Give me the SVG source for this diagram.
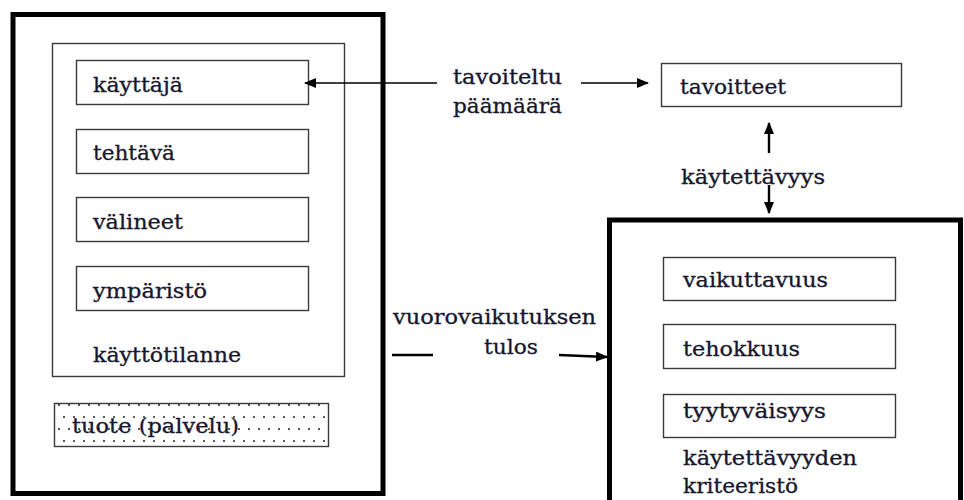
<svg xmlns="http://www.w3.org/2000/svg" width="964" height="500" viewBox="0 0 964 500">
  <style>
    .frame { fill: none; stroke: #000; stroke-width: 5; }
    .box { fill: #fff; stroke: #3a3a3a; stroke-width: 1.4; }
    .area { fill: none; stroke: #3a3a3a; stroke-width: 1.4; }
    text { font-family: 'DejaVu Serif', 'Liberation Serif', serif; font-size: 20px; fill: #16162e; stroke: #16162e; stroke-width: 0.3; }
    .conn { stroke: #000; stroke-width: 1.6; fill: none; }
    .conn-b { stroke: #000; stroke-width: 2.4; fill: none; }
  </style>
  <defs>
    <marker id="arrow" markerUnits="userSpaceOnUse" markerWidth="12" markerHeight="10" refX="11" refY="5" orient="auto">
      <path d="M0,0 L12,5 L0,10 Z" fill="#000"/>
    </marker>
    <pattern id="dots" patternUnits="userSpaceOnUse" x="54" y="403" width="20" height="24">
      <rect x="0" y="0" width="20" height="24" fill="#fff"/>
      <circle cx="5" cy="2" r="1" fill="#222"/>
      <circle cx="15" cy="2" r="1" fill="#222"/>
      <circle cx="0" cy="14" r="1" fill="#222"/>
      <circle cx="10" cy="14" r="1" fill="#222"/>
      <circle cx="20" cy="14" r="1" fill="#222"/>
    </pattern>
  </defs>

  <!-- left frame: use situation and product -->
  <g id="system">
    <rect class="frame" x="13" y="14.5" width="370" height="479"/>
  </g>
  <g id="kayttotilanne">
    <rect class="area" x="52.5" y="43.5" width="292" height="333"/>
    <text x="93" y="362" textLength="148" lengthAdjust="spacingAndGlyphs">käyttötilanne</text>
  </g>
  <g id="kayttaja">
    <rect class="box" x="76.5" y="60.5" width="232" height="44"/>
    <text x="93" y="92" textLength="90" lengthAdjust="spacingAndGlyphs">käyttäjä</text>
  </g>
  <g id="tehtava">
    <rect class="box" x="76.5" y="129.5" width="232" height="44"/>
    <text x="93" y="160" textLength="82" lengthAdjust="spacingAndGlyphs">tehtävä</text>
  </g>
  <g id="valineet">
    <rect class="box" x="76.5" y="197.5" width="232" height="44"/>
    <text x="93" y="229" textLength="90" lengthAdjust="spacingAndGlyphs">välineet</text>
  </g>
  <g id="ymparisto">
    <rect class="box" x="76.5" y="266.5" width="232" height="44"/>
    <text x="93" y="298" textLength="114" lengthAdjust="spacingAndGlyphs">ympäristö</text>
  </g>
  <g id="tuote">
    <rect x="54.5" y="403.5" width="274" height="43" fill="url(#dots)" stroke="#3a3a3a" stroke-width="1.4"/>
    <text x="72" y="433" textLength="167" lengthAdjust="spacingAndGlyphs">tuote (palvelu)</text>
  </g>

  <!-- goals -->
  <g id="tavoitteet">
    <rect class="box" x="661.5" y="63.5" width="240" height="43"/>
    <text x="680" y="94" textLength="106" lengthAdjust="spacingAndGlyphs">tavoitteet</text>
  </g>

  <!-- right frame: usability criteria -->
  <g id="kriteeristo">
    <rect class="frame" x="609.5" y="220" width="351" height="300"/>
    <text x="683" y="465" textLength="174" lengthAdjust="spacingAndGlyphs">käytettävyyden</text>
    <text x="683" y="493" textLength="115" lengthAdjust="spacingAndGlyphs">kriteeristö</text>
  </g>
  <g id="vaikuttavuus">
    <rect class="box" x="663.5" y="257.5" width="232" height="43"/>
    <text x="683" y="287" textLength="145" lengthAdjust="spacingAndGlyphs">vaikuttavuus</text>
  </g>
  <g id="tehokkuus">
    <rect class="box" x="663.5" y="324.5" width="232" height="44"/>
    <text x="683" y="356" textLength="117" lengthAdjust="spacingAndGlyphs">tehokkuus</text>
  </g>
  <g id="tyytyvaisyys">
    <rect class="box" x="663.5" y="394.5" width="232" height="43"/>
    <text x="683" y="418" textLength="143" lengthAdjust="spacingAndGlyphs">tyytyväisyys</text>
  </g>

  <!-- connectors and their labels -->
  <g id="connectors">
    <line class="conn" x1="437" y1="83" x2="305" y2="83" marker-end="url(#arrow)"/>
    <line class="conn" x1="581" y1="83" x2="648" y2="83" marker-end="url(#arrow)"/>
    <text x="453" y="84" textLength="109" lengthAdjust="spacingAndGlyphs">tavoiteltu</text>
    <text x="453" y="113" textLength="109" lengthAdjust="spacingAndGlyphs">päämäärä</text>

    <line class="conn-b" x1="769" y1="153" x2="769" y2="123" marker-end="url(#arrow)"/>
    <line class="conn-b" x1="769" y1="185" x2="769" y2="213" marker-end="url(#arrow)"/>
    <text x="681" y="184" textLength="144" lengthAdjust="spacingAndGlyphs">käytettävyys</text>

    <line class="conn-b" x1="392" y1="355" x2="433" y2="355"/>
    <line class="conn-b" x1="559" y1="355" x2="607" y2="357" marker-end="url(#arrow)"/>
    <text x="393" y="324" textLength="203" lengthAdjust="spacingAndGlyphs">vuorovaikutuksen</text>
    <text x="484" y="354" textLength="54" lengthAdjust="spacingAndGlyphs">tulos</text>
  </g>
</svg>
